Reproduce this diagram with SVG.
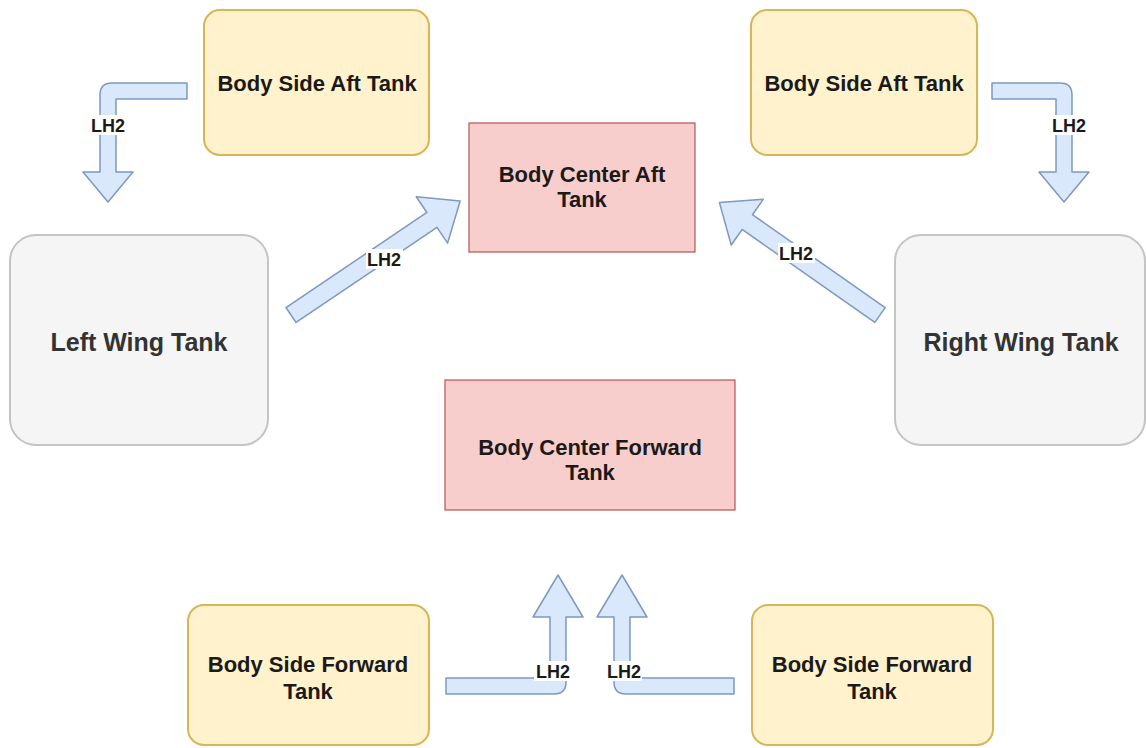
<svg xmlns="http://www.w3.org/2000/svg" width="1146" height="748" viewBox="0 0 1146 748">
<style>
text{font-family:"Liberation Sans",Arial,sans-serif;font-weight:bold;text-anchor:middle}
.side rect{fill:#fff2cc;stroke:#d6b656;stroke-width:2}
.center rect{fill:#f8cecc;stroke:#b85450;stroke-width:1.2}
.wing rect{fill:#f5f5f5;stroke:#c4c4c4;stroke-width:2}
.side text,.center text{font-size:22px;fill:#1a1a1a}
.wing text{font-size:25px;fill:#333333}
.arrow{fill:#dae8fc;stroke:#7d98c2;stroke-width:1.5;stroke-linejoin:round}
.lbl rect{fill:#ffffff}
.lbl text{font-size:18px;fill:#1a1a1a}
</style>
<rect width="1146" height="748" fill="#ffffff"/>
<g id="connectors">
  <path class="arrow" d="M187,83 L112,83 Q100,83 100,95 L100,172 L83,172 L108,202 L133,172 L116,172 L116,99 L187,99 Z"/>
  <path class="arrow" d="M992,83 L1060,83 Q1072,83 1072,95 L1072,172 L1089,172 L1064,202 L1039,172 L1056,172 L1056,99 L992,99 Z"/>
  <path class="arrow" transform="translate(291,315) rotate(-34)" d="M0,-9 L170,-9 L170,-28 L204,0 L170,28 L170,9 L0,9 Z"/>
  <path class="arrow" transform="translate(880,315) rotate(-145)" d="M0,-9 L162,-9 L162,-28 L196,0 L162,28 L162,9 L0,9 Z"/>
  <path class="arrow" d="M446,678 L550,678 L550,617 L533,617 L558,575 L583,617 L566,617 L566,682 Q566,694 554,694 L446,694 Z"/>
  <path class="arrow" d="M734,678 L630,678 L630,617 L647,617 L622,575 L597,617 L614,617 L614,682 Q614,694 626,694 L734,694 Z"/>
  <g class="lbl">
    <rect x="90" y="115" width="37" height="20"/><text x="108" y="132">LH2</text>
    <rect x="1051" y="115" width="37" height="20"/><text x="1069" y="132">LH2</text>
    <rect x="366" y="249" width="37" height="20"/><text x="384" y="266">LH2</text>
    <rect x="778" y="243" width="37" height="20"/><text x="796" y="260">LH2</text>
    <rect x="534" y="661" width="37" height="20"/><text x="553" y="678">LH2</text>
    <rect x="605" y="661" width="37" height="20"/><text x="624" y="678">LH2</text>
  </g>
</g>
<g id="side-aft-left" class="side"><rect x="204" y="10" width="225" height="145" rx="16"/><text x="317" y="91">Body Side Aft Tank</text></g>
<g id="side-aft-right" class="side"><rect x="751" y="10" width="226" height="145" rx="16"/><text x="864" y="91">Body Side Aft Tank</text></g>
<g id="center-aft" class="center"><rect x="469" y="123" width="226" height="129"/><text x="582" y="182">Body Center Aft</text><text x="582" y="207">Tank</text></g>
<g id="left-wing" class="wing"><rect x="10" y="235" width="258" height="210" rx="26"/><text x="139" y="351">Left Wing Tank</text></g>
<g id="right-wing" class="wing"><rect x="895" y="235" width="250" height="210" rx="26"/><text x="1021" y="351">Right Wing Tank</text></g>
<g id="center-forward" class="center"><rect x="445" y="380" width="290" height="130"/><text x="590" y="455">Body Center Forward</text><text x="590" y="480">Tank</text></g>
<g id="side-forward-left" class="side"><rect x="188" y="605" width="241" height="140" rx="16"/><text x="308" y="672">Body Side Forward</text><text x="308" y="699">Tank</text></g>
<g id="side-forward-right" class="side"><rect x="752" y="605" width="241" height="140" rx="16"/><text x="872" y="672">Body Side Forward</text><text x="872" y="699">Tank</text></g>
</svg>
